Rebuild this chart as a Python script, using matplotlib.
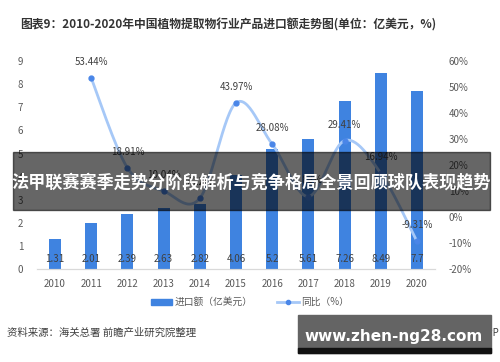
import numpy as np
import matplotlib
matplotlib.use("Agg")
import matplotlib.pyplot as plt
from matplotlib.patches import Rectangle
from matplotlib.lines import Line2D

plt.rcParams['font.family'] = ['Noto Sans CJK SC', 'DejaVu Sans']

years = ['2010', '2011', '2012', '2013', '2014', '2015',
         '2016', '2017', '2018', '2019', '2020']
imports = [1.31, 2.01, 2.39, 2.63, 2.82, 4.06, 5.2, 5.61, 7.26, 8.49, 7.7]
growth_years = years[1:]
growth = [53.44, 18.91, 10.04, 7.22, 43.97, 28.08, 7.88, 29.41, 16.94, -9.31]
bar_labels = ['1.31', '2.01', '2.39', '2.63', '2.82', '4.06', '5.2', '5.61', '7.26', '8.49', '7.7']
growth_labels = ['53.44%', '18.91%', '10.04%', '7.22%', '43.97%', '28.08%',
                 '7.88%', '29.41%', '16.94%', '-9.31%']

BAR = '#3f83e0'
LINE = '#a6c8f7'
DOT = '#4a86e8'
TXT = '#595959'


def smooth(x, y, n=30):
    # catmull-rom style curve through the points, like excel "smoothed line"
    x = np.asarray(x, float)
    y = np.asarray(y, float)
    px = np.concatenate([[x[0]], x, [x[-1]]])
    py = np.concatenate([[y[0]], y, [y[-1]]])
    xs, ys = [], []
    t = np.linspace(0, 1, n)
    for i in range(1, len(px) - 2):
        p0, p1, p2, p3 = (np.array([px[j], py[j]]) for j in (i - 1, i, i + 1, i + 2))
        c1 = p1 + (p2 - p0) / 6
        c2 = p2 - (p3 - p1) / 6
        b = ((1 - t) ** 3)[:, None] * p1 + (3 * (1 - t) ** 2 * t)[:, None] * c1 \
            + (3 * (1 - t) * t ** 2)[:, None] * c2 + (t ** 3)[:, None] * p2
        xs.append(b[:, 0])
        ys.append(b[:, 1])
    return np.concatenate(xs), np.concatenate(ys)


fig = plt.figure(figsize=(5, 3.62), dpi=100)
ax = fig.add_axes([0.074, 0.257, 0.796, 0.574])
ax2 = ax.twinx()

x = np.arange(len(years))
ax.bar(x, imports, width=0.33, color=BAR, zorder=2)
for xi, lab in zip(x, bar_labels):
    ax.text(xi, 0.45, lab, ha='center', va='center', fontsize=7, color='#404040', zorder=3)

ax.set_xlim(-0.5, len(years) - 0.5)
ax.set_ylim(0, 9)
ax.set_yticks(range(0, 10))
ax.set_xticks(x, years)
ax2.set_ylim(-20, 60)
ax2.set_yticks(range(-20, 61, 10), [f'{v}%' for v in range(-20, 61, 10)])

for a in (ax, ax2):
    for s in ('top', 'left', 'right'):
        a.spines[s].set_visible(False)
    a.spines['bottom'].set_color('#d9d9d9')
    a.tick_params(length=0, labelsize=7, colors=TXT, pad=10)
ax.tick_params(axis='x', pad=7)

gx = x[1:]
sx, sy = smooth(gx, growth)
ax2.plot(sx, sy, color=LINE, lw=2, zorder=4, solid_capstyle='round')
ax2.plot(gx, growth, 'o', color=DOT, ms=3.5, zorder=5)
for xi, v, lab in zip(gx, growth, growth_labels):
    ax2.annotate(lab, (xi, v), xytext=(0, 8), textcoords='offset points',
                 ha='center', va='bottom', fontsize=7, color='#404040', zorder=6)

fig.text(0.04, 0.93, '图表9：2010-2020年中国植物提取物行业产品进口额走势图(单位：亿美元，%)',
         fontsize=8.5, fontweight='bold', color='#333333', va='center', ha='left')

# legend
h1 = Rectangle((0, 0), 1, 1, color=BAR)
h2 = Line2D([], [], color=LINE, lw=2, marker='o', ms=3, mfc=DOT, mec=DOT)
fig.legend([h1, h2], ['进口额（亿美元）', '同比（%）'], loc='center',
           bbox_to_anchor=(0.5, 0.165), ncol=2, frameon=False, fontsize=7,
           handlelength=2.2, handleheight=0.5, columnspacing=2.5, handletextpad=0.3,
           labelcolor=TXT)

fig.text(0.014, 0.08, '资料来源：海关总署 前瞻产业研究院整理', fontsize=7.5,
         color='#404040', va='center', ha='left')
fig.text(0.998, 0.08, '@前瞻经济学人APP', fontsize=7, color='#404040', va='center', ha='right')

# overlay banner across the middle
fig.patches.append(Rectangle((0.026, 1 - 210 / 362), 0.954, 58 / 362,
                             transform=fig.transFigure, color='black', alpha=0.6, zorder=10))
fig.text(0.503, 1 - 182 / 362, '法甲联赛赛季走势分阶段解析与竞争格局全景回顾球队表现趋势',
         fontsize=12.3, fontweight='bold', color='white', ha='center', va='center', zorder=11)

# watermark box bottom right
fig.patches.append(Rectangle((298 / 500, 1 - 353 / 362), 193 / 500, 38 / 362,
                             transform=fig.transFigure, color='#646464', zorder=10))
fig.patches.append(Rectangle((298 / 500, 1 - 353 / 362), 193 / 500, 5 / 362,
                             transform=fig.transFigure, color='#111111', zorder=10))
fig.text(394 / 500, 1 - 337 / 362, 'www.zhen-ng28.com', fontsize=11, fontweight='bold',
         color='white', ha='center', va='center', zorder=11, family=['DejaVu Sans'])

fig.savefig('out.png', dpi=100)
